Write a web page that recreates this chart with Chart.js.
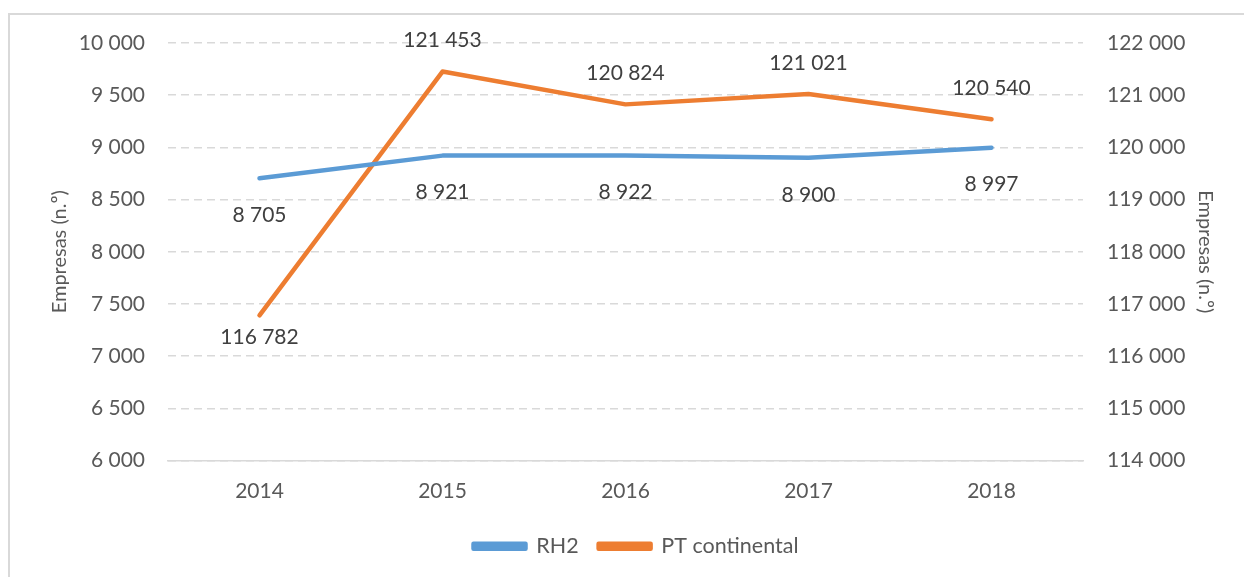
<!DOCTYPE html>
<html>
<head>
<meta charset="utf-8">
<script src="https://cdn.jsdelivr.net/npm/chart.js@4.4.1/dist/chart.umd.min.js"></script>
<style>
  html, body { margin: 0; padding: 0; background: #ffffff; overflow: hidden; }
  #frame { position: absolute; left: 8px; top: 13px; width: 1300px; height: 700px; border: 2px solid #d9d9d9; box-sizing: border-box; }
  #wrap { position: absolute; left: 0; top: 0; width: 1244px; height: 577px; }
</style>
</head>
<body>
<div id="frame"></div>
<div id="wrap"><canvas id="c" width="1244" height="577"></canvas></div>
<script>
const categories = ['2014', '2015', '2016', '2017', '2018'];
const rh2Values = [8705, 8921, 8922, 8900, 8997];
const ptContinentalValues = [116782, 121453, 120824, 121021, 120540];
const seriesNames = ['RH2', 'PT continental'];
const axisTitle = 'Empresas (n.º)';
const leftAxisRange = [6000, 10000, 500];
const rightAxisRange = [114000, 122000, 1000];

const FONT = 'Lato, "Open Sans", sans-serif';
const fmt = v => Math.round(v).toString().replace(/\B(?=(\d{3})+(?!\d))/g, ' ');

const dataLabels = {
  id: 'dataLabels',
  afterDatasetsDraw(chart) {
    const ctx = chart.ctx;
    ctx.save();
    ctx.font = '21px ' + FONT;
    ctx.fillStyle = '#404040';
    ctx.textAlign = 'center';
    ctx.textBaseline = 'middle';
    chart.data.datasets.forEach((ds, di) => {
      const meta = chart.getDatasetMeta(di);
      meta.data.forEach((pt, i) => {
        let off;
        if (di === 0) off = 37;
        else off = (i === 0) ? 22 : -31;
        ctx.fillText(fmt(ds.data[i]), pt.x, pt.y + off);
      });
    });
    ctx.restore();
  }
};

const legendShift = {
  id: 'legendShift',
  afterLayout(chart) {
    if (chart.legend) {
      chart.legend.left += 14;
      chart.legend.right += 14;
    }
  }
};

new Chart(document.getElementById('c'), {
  type: 'line',
  data: {
    labels: categories,
    datasets: [
      {
        label: seriesNames[0],
        data: rh2Values,
        yAxisID: 'y',
        borderColor: '#5B9BD5',
        backgroundColor: '#5B9BD5',
        borderWidth: 4.5,
        borderCapStyle: 'round',
        borderJoinStyle: 'round',
        pointRadius: 0,
        tension: 0
      },
      {
        label: seriesNames[1],
        data: ptContinentalValues,
        yAxisID: 'y1',
        borderColor: '#ED7D31',
        backgroundColor: '#ED7D31',
        borderWidth: 4.5,
        borderCapStyle: 'round',
        borderJoinStyle: 'round',
        pointRadius: 0,
        tension: 0
      }
    ]
  },
  options: {
    responsive: false,
    animation: false,
    layout: { padding: { top: 43, bottom: 10, left: 0, right: 0 } },
    plugins: {
      tooltip: { enabled: false },
      legend: {
        position: 'bottom',
        labels: {
          font: { family: FONT, size: 21.5 },
          color: '#595959',
          boxWidth: 52,
          boxHeight: 5,
          padding: 20
        }
      }
    },
    scales: {
      x: {
        offset: true,
        grid: { display: false, drawTicks: false },
        border: { display: true, color: '#d9d9d9', width: 1.5 },
        ticks: { font: { family: FONT, size: 21 }, color: '#595959', padding: 18 },
        afterFit(s) { s.height = 55; }
      },
      y: {
        position: 'left',
        min: leftAxisRange[0], max: leftAxisRange[1],
        ticks: { stepSize: leftAxisRange[2], font: { family: FONT, size: 21 }, color: '#595959', padding: 23, callback: v => fmt(v) },
        grid: { color: '#d9d9d9', lineWidth: 1.5, drawTicks: false },
        border: { display: false, dash: [8, 5] },
        title: { display: true, text: axisTitle, font: { family: FONT, size: 20 }, color: '#595959', padding: { top: 48, bottom: 0 } },
        afterFit(s) { s.width = 168; }
      },
      y1: {
        position: 'right',
        min: rightAxisRange[0], max: rightAxisRange[1],
        ticks: { stepSize: rightAxisRange[2], font: { family: FONT, size: 21 }, color: '#595959', padding: 24, callback: v => fmt(v) },
        grid: { display: false, drawTicks: false },
        border: { display: false },
        title: { display: true, text: axisTitle, font: { family: FONT, size: 20 }, color: '#595959', padding: { top: 27, bottom: 0 } },
        afterFit(s) { s.width = 161; }
      }
    }
  },
  plugins: [dataLabels, legendShift]
});
</script>
</body>
</html>
